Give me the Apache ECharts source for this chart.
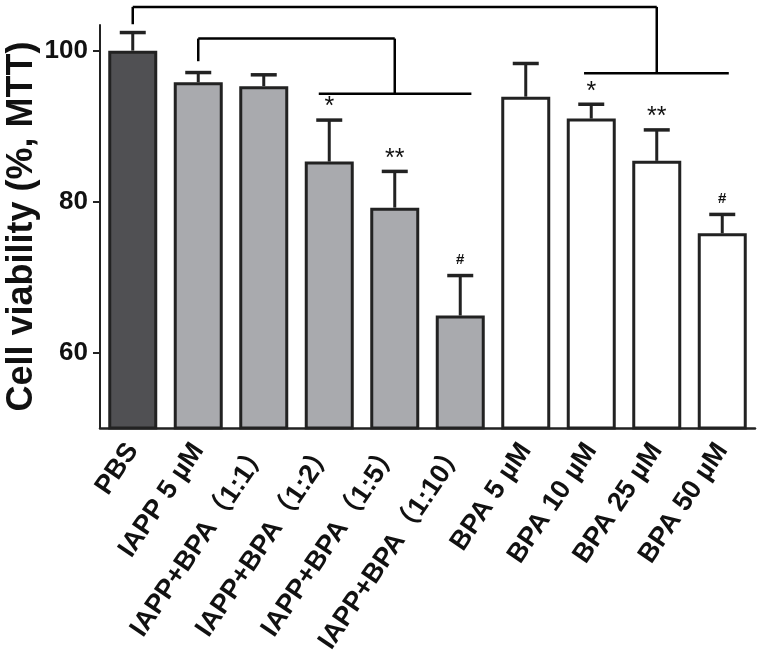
<!DOCTYPE html>
<html>
<head>
<meta charset="utf-8">
<script src="https://cdn.jsdelivr.net/npm/echarts@6/dist/echarts.min.js"></script>
<style>
  html, body { margin: 0; padding: 0; background: #fff; }
  #main { width: 763px; height: 657px; }
</style>
</head>
<body>
<div id="main"></div>
<script>
var chartDom = document.getElementById('main');
var myChart = echarts.init(chartDom);
var option;

// groups and values
const categories = [
  'PBS', 'IAPP 5 µM', 'IAPP+BPA（1:1）', 'IAPP+BPA（1:2）', 'IAPP+BPA（1:5）',
  'IAPP+BPA（1:10）', 'BPA 5 µM', 'BPA 10 µM', 'BPA 25 µM', 'BPA 50 µM'
];
const groups = ['ctrl', 'iapp', 'iapp', 'iapp', 'iapp', 'iapp', 'bpa', 'bpa', 'bpa', 'bpa'];
const means = [100, 95.8, 95.3, 85.3, 79.2, 64.9, 93.9, 91.0, 85.4, 75.8];
const upper = [102.4, 97.1, 96.8, 90.8, 84.0, 70.2, 98.3, 92.9, 89.5, 78.3];
const marks = ['', '', '', '*', '**', '#', '', '*', '**', '#'];
const yTicks = [60, 80, 100];

// comparison brackets: [x1, y1, x2, y2], x in category index
const bracketOuter = [
  [0, 103.5, 0, 105.8],
  [0, 105.8, 8, 105.8],
  [8, 105.8, 8, 97.0],
  [6.89, 97.0, 9.1, 97.0]
];
const bracketInner = [
  [1, 98.6, 1, 101.6],
  [1, 101.6, 4, 101.6],
  [4, 101.6, 4, 94.3],
  [2.84, 94.3, 5.17, 94.3]
];

const groupColor = { ctrl: '#505053', iapp: '#a9aaae', bpa: '#ffffff' };
const ink = '#222222';
const font = '"Liberation Sans", Arial, "Noto Sans CJK SC", sans-serif';

option = {
  backgroundColor: '#fff',
  animation: false,
  grid: { left: 100, right: 8, top: 25, bottom: 229, outerBoundsMode: 'none', containLabel: false },
  xAxis: {
    type: 'category',
    data: categories,
    axisLine: { lineStyle: { color: ink, width: 2.5 } },
    axisTick: { show: false },
    axisLabel: {
      rotate: 56,
      interval: 0,
      margin: 18,
      padding: [24, 0, 0, 0],
      color: '#111',
      fontFamily: font,
      fontWeight: 'bold',
      fontSize: 27
    }
  },
  yAxis: {
    type: 'value',
    min: 50,
    max: 103.4,
    name: 'Cell viability (%, MTT)',
    nameLocation: 'middle',
    nameGap: 60,
    nameMoveOverlap: false,
    nameTextStyle: {
      color: '#111',
      fontFamily: font,
      fontWeight: 'bold',
      fontSize: 36
    },
    splitLine: { show: false },
    axisLine: { show: true, lineStyle: { color: ink, width: 2 } },
    axisTick: { show: true, length: 7, customValues: yTicks, lineStyle: { color: ink, width: 2 } },
    axisLabel: {
      customValues: yTicks,
      margin: 12,
      color: '#111',
      fontFamily: font,
      fontWeight: 'bold',
      fontSize: 26
    }
  },
  series: [
    {
      type: 'bar',
      barWidth: 49,
      data: means.map(function (v, i) {
        return { value: v, itemStyle: { color: groupColor[groups[i]] } };
      }),
      itemStyle: { borderColor: ink, borderWidth: 3 },
      z: 2
    },
    {
      type: 'custom',
      z: 3,
      data: means.map(function (v, i) { return [i, v, upper[i]]; }),
      renderItem: function (params, api) {
        var i = api.value(0);
        var base = api.coord([i, api.value(1)]);
        var top = api.coord([i, api.value(2)]);
        var cap = 13;
        var children = [
          { type: 'line', shape: { x1: base[0], y1: base[1], x2: top[0], y2: top[1] },
            style: { stroke: ink, lineWidth: 3 } },
          { type: 'line', shape: { x1: top[0] - cap, y1: top[1], x2: top[0] + cap, y2: top[1] },
            style: { stroke: ink, lineWidth: 3.5 } }
        ];
        var m = marks[params.dataIndex];
        if (m) {
          var isHash = m === '#';
          children.push({
            type: 'text',
            style: {
              x: top[0],
              y: top[1] - (isHash ? 8 : 0),
              text: m,
              fill: '#111',
              font: (isHash ? 'bold 15px ' : '25px ') + font,
              textAlign: 'center',
              textVerticalAlign: 'bottom'
            }
          });
        }
        return { type: 'group', children: children };
      }
    },
    {
      type: 'custom',
      z: 3,
      silent: true,
      data: [0],
      renderItem: function (params, api) {
        var x0 = api.coord([0, 50])[0];
        var band = api.size([1, 0])[0];
        var segs = bracketOuter.concat(bracketInner);
        return {
          type: 'group',
          children: segs.map(function (s) {
            return {
              type: 'line',
              shape: {
                x1: x0 + s[0] * band, y1: api.coord([0, s[1]])[1],
                x2: x0 + s[2] * band, y2: api.coord([0, s[3]])[1]
              },
              style: { stroke: '#000', lineWidth: 2.5 }
            };
          })
        };
      }
    }
  ]
};

option && myChart.setOption(option);
</script>
</body>
</html>
